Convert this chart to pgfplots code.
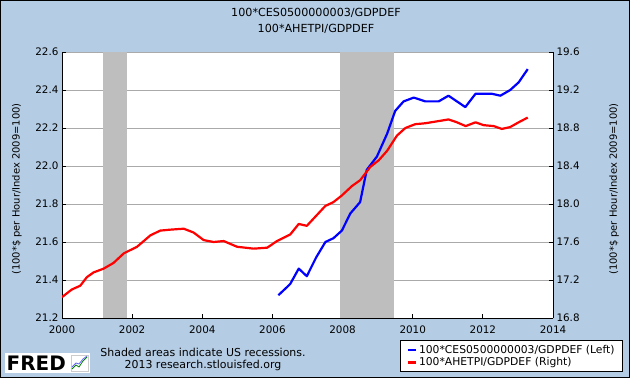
\documentclass[border=0pt]{standalone}
\usepackage{pgfplots}
\pgfplotsset{compat=1.18}
\usepackage{fontspec}
\setmainfont{DejaVu Sans}
\definecolor{fredbg}{RGB}{180,204,228}
\definecolor{recess}{RGB}{190,190,190}
\definecolor{gridc}{RGB}{170,170,170}
\definecolor{fredblue}{RGB}{0,0,255}
\definecolor{fredred}{RGB}{255,0,0}
\begin{document}
\begin{tikzpicture}
\path[use as bounding box, fill=fredbg] (0bp,0bp) rectangle (630bp,378bp);
\draw[black, line width=1bp] (0.5bp,0.5bp) rectangle (629.5bp,377.5bp);
% titles
\node[font=\fontsize{11.2}{13}\selectfont] at (316bp,365bp) {100*CES0500000003/GDPDEF};
\node[font=\fontsize{11.2}{13}\selectfont] at (316bp,349bp) {100*AHETPI/GDPDEF};
% axis labels
\node[rotate=90, font=\fontsize{10}{12}\selectfont] at (17bp,189bp) {(100*\$ per Hour/Index 2009=100)};
\node[rotate=90, font=\fontsize{10}{12}\selectfont] at (614bp,189bp) {(100*\$ per Hour/Index 2009=100)};
% notes
\node[font=\fontsize{11}{13}\selectfont] at (203bp,26bp) {Shaded areas indicate US recessions.};
\node[font=\fontsize{11}{13}\selectfont] at (203bp,12.5bp) {2013 research.stlouisfed.org};
% FRED logo
\fill[white] (5bp,5bp) rectangle (90bp,25bp);
\node[anchor=west, font=\fontsize{20}{20}\selectfont\bfseries, inner sep=0pt] at (6.5bp,14.5bp) {FRED};
\draw[gridc!60, line width=0.5bp] (71bp,7bp) rectangle (88bp,23bp);
\draw[green!50!black, line width=0.8bp] (72bp,9bp) -- (76bp,13bp) -- (79bp,11bp) -- (83bp,17bp) -- (87bp,21bp);
\draw[blue!60, line width=0.8bp] (72bp,11bp) -- (76bp,15bp) -- (79bp,14bp) -- (83bp,19bp) -- (87bp,22bp);

\begin{axis}[
  at={(62bp,60bp)}, anchor=south west, scale only axis,
  width=491bp, height=266bp,
  xmin=2000, xmax=2014, ymin=21.2, ymax=22.6,
  xtick={2000,2002,2004,2006,2008,2010,2012,2014},
  ytick={21.2,21.4,21.6,21.8,22.0,22.2,22.4,22.6},
  axis x line*=bottom, axis y line*=left,
  ymajorgrids, grid style={gridc, line width=0.8bp},
  tick align=inside, major tick length=4bp,
  tick style={black, line width=0.8bp},
  axis line style={black, line width=0.8bp, -},
  tick label style={font=\fontsize{10.4}{12}\selectfont},
  /pgf/number format/assume math mode=true,
  x tick label style={/pgf/number format/1000 sep={}, yshift=-4bp},
  y tick label style={/pgf/number format/.cd, fixed, fixed zerofill, precision=1},
  axis background/.style={fill=white},
]
\addplot[fill=recess, draw=none] coordinates {(2001.17,21.2) (2001.17,22.6) (2001.85,22.6) (2001.85,21.2)} -- cycle;
\addplot[fill=recess, draw=none] coordinates {(2007.92,21.2) (2007.92,22.6) (2009.46,22.6) (2009.46,21.2)} -- cycle;
\addplot[fredblue, line width=2.2bp, line join=round] coordinates {
(2006.17,21.32) (2006.40,21.36) (2006.51,21.38) (2006.75,21.46) (2006.98,21.42)
(2007.25,21.52) (2007.51,21.60) (2007.74,21.62) (2007.98,21.66) (2008.22,21.75)
(2008.50,21.81) (2008.69,21.98) (2008.98,22.05) (2009.27,22.17) (2009.50,22.29)
(2009.74,22.34) (2010.03,22.36) (2010.36,22.34) (2010.74,22.34) (2011.02,22.37)
(2011.26,22.34) (2011.50,22.31) (2011.79,22.38) (2012.07,22.38) (2012.26,22.38)
(2012.50,22.37) (2012.78,22.40) (2013.02,22.44) (2013.28,22.51)
};
\end{axis}

\begin{axis}[
  at={(62bp,60bp)}, anchor=south west, scale only axis,
  width=491bp, height=266bp,
  xmin=2000, xmax=2014, ymin=16.8, ymax=19.6,
  axis x line=none, axis y line*=right,
  ytick={16.8,17.2,17.6,18.0,18.4,18.8,19.2,19.6},
  tick align=inside, major tick length=4bp,
  tick style={black, line width=0.8bp},
  axis line style={black, line width=0.8bp, -},
  tick label style={font=\fontsize{10.4}{12}\selectfont},
  /pgf/number format/assume math mode=true,
  y tick label style={/pgf/number format/.cd, fixed, fixed zerofill, precision=1},
  legend style={at={(1.1426,-0.203)}, anchor=south east, draw=black, line width=0.8bp,
    fill=white, font=\fontsize{10.8}{12}\selectfont, row sep=-1.5bp, inner xsep=6bp, inner ysep=2.5bp},
  legend cell align=left,
  legend image code/.code={\draw[#1, line width=2.6bp] (0bp,0bp) -- (8bp,0bp);},
]
\addlegendimage{fredblue}
\addlegendentry{100*CES0500000003/GDPDEF (Left)}
\addplot[fredred, line width=2.2bp, line join=round] coordinates {
(2000.00,17.02) (2000.28,17.10) (2000.52,17.14) (2000.71,17.23) (2000.90,17.28)
(2001.19,17.32) (2001.47,17.38) (2001.76,17.48) (2002.14,17.55) (2002.52,17.67)
(2002.80,17.72) (2003.09,17.73) (2003.47,17.74) (2003.75,17.70) (2004.04,17.62)
(2004.32,17.60) (2004.61,17.61) (2004.99,17.55) (2005.46,17.53) (2005.85,17.54)
(2006.13,17.61) (2006.51,17.68) (2006.75,17.79) (2006.98,17.77) (2007.51,17.98)
(2007.74,18.02) (2007.98,18.09) (2008.27,18.19) (2008.50,18.25) (2008.79,18.39)
(2009.03,18.46) (2009.27,18.56) (2009.55,18.72) (2009.79,18.80) (2010.07,18.84)
(2010.36,18.85) (2010.69,18.87) (2011.02,18.89) (2011.26,18.86) (2011.51,18.82)
(2011.79,18.86) (2012.02,18.83) (2012.31,18.82) (2012.54,18.79) (2012.78,18.81)
(2013.02,18.86) (2013.28,18.91)
};
\addlegendentry{100*AHETPI/GDPDEF (Right)}
\end{axis}
\end{tikzpicture}
\end{document}
